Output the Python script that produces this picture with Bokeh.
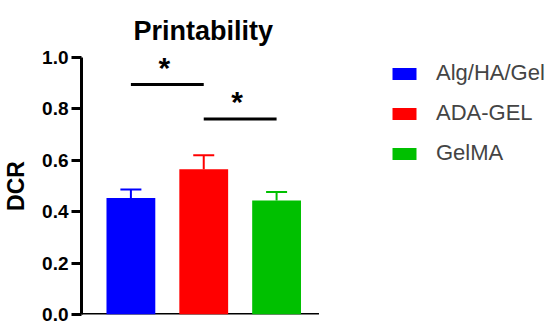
from bokeh.plotting import figure
from bokeh.models import (Range1d, FixedTicker, PrintfTickFormatter, Whisker,
                          TeeHead, ColumnDataSource, Legend, LegendItem)
from bokeh.core.properties import value
from bokeh.embed import file_html
from bokeh.resources import INLINE

# ---- data ----
groups = ["Alg/HA/Gel", "ADA-GEL", "GelMA"]
dcr_mean = [0.453, 0.565, 0.444]
dcr_upper = [0.486, 0.620, 0.477]
colors = ["#0000FF", "#FF0000", "#00C000"]
y_ticks = [0.0, 0.2, 0.4, 0.6, 0.8, 1.0]
sig_from = [0, 1]
sig_to = [1, 2]
sig_y = [0.895, 0.761]
sig_text = ["*", "*"]

FONT = "Liberation Sans"
X_START, X_AXIS_END, X_END = -0.678, 2.582, 5.76

xs = list(range(len(groups)))
src = ColumnDataSource(dict(x=xs, top=dcr_mean, upper=dcr_upper, color=colors, name=groups))

p = figure(width=550, height=328, output_backend="svg", toolbar_location=None,
           x_range=Range1d(X_START, X_END), y_range=Range1d(0, 1.0),
           min_border_left=80, min_border_right=0, min_border_top=57, min_border_bottom=14,
           title="Printability")
p.outline_line_color = None
p.grid.visible = False
p.background_fill_color = None
p.border_fill_color = "white"

p.title.text_font = FONT
p.title.text_font_size = "27px"
p.title.text_font_style = "bold"
p.title.text_color = "black"
p.title.align = "left"
p.title.offset = 52
p.title.standoff = 24

p.xaxis.visible = False
ya = p.yaxis[0]
ya.ticker = FixedTicker(ticks=y_ticks)
ya.formatter = PrintfTickFormatter(format="%.1f")
ya.axis_line_width = 3
ya.major_tick_line_width = 3
ya.major_tick_out = 10
ya.major_tick_in = 0
ya.minor_tick_out = 0
ya.minor_tick_in = 0
ya.major_label_standoff = 3
ya.major_label_text_font = FONT
ya.major_label_text_font_style = "bold"
ya.major_label_text_font_size = "19px"
ya.major_label_text_color = "black"
ya.axis_label = "DCR"
ya.axis_label_text_font = FONT
ya.axis_label_text_font_style = "bold"
ya.axis_label_text_font_size = "23px"
ya.axis_label_text_color = "black"
ya.axis_label_standoff = 10

# x-axis baseline (spans the category area only)
p.segment(x0=[X_START], x1=[X_AXIS_END], y0=[0], y1=[0], line_color="black", line_width=3)

# error bars (upper only)
wh = Whisker(source=src, base="x", lower="top", upper="upper",
             line_color="color", line_width=2,
             upper_head=TeeHead(size=21, line_color="color", line_width=2),
             lower_head=None)
p.add_layout(wh)

bars = p.vbar(x="x", top="top", width=0.67, bottom=0, source=src,
              fill_color="color", line_color=None)

# significance bars
sig_src = ColumnDataSource(dict(x0=sig_from, x1=sig_to, y=sig_y,
                                xm=[(a + b) / 2 for a, b in zip(sig_from, sig_to)],
                                t=sig_text))
p.segment(x0="x0", x1="x1", y0="y", y1="y", source=sig_src, line_color="black", line_width=3)
p.text(x="xm", y="y", text="t", source=sig_src, text_font=value(FONT), text_font_style="bold",
       text_font_size="30px", text_align="center", text_baseline="alphabetic", y_offset=-17,
       x_offset=-3, text_color="black")

items = [LegendItem(label=g, renderers=[bars], index=i) for i, g in enumerate(groups)]
legend = Legend(items=items, location=(308, 148), glyph_width=30, glyph_height=15,
                label_text_font=FONT, label_text_font_size="22px", label_standoff=17,
                spacing=14, padding=0, margin=0, border_line_color=None,
                background_fill_alpha=0)
p.add_layout(legend)

open("out.html", "w").write(file_html(p, INLINE))
